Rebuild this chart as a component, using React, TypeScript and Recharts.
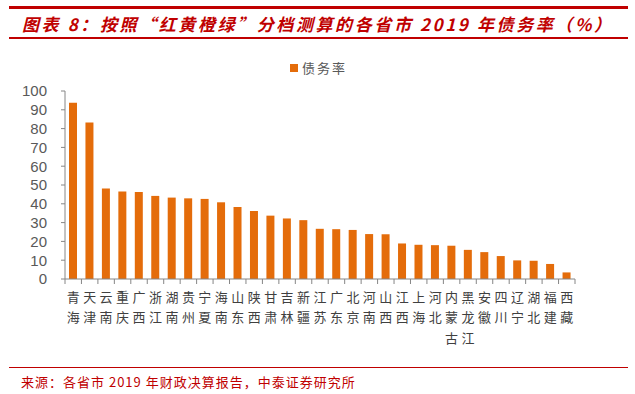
import React from 'react';
import { BarChart, Bar, XAxis, YAxis, Legend } from 'recharts';

const provinces = ['青海', '天津', '云南', '重庆', '广西', '浙江', '湖南', '贵州', '宁夏', '海南', '山东', '陕西', '甘肃', '吉林', '新疆', '江苏', '广东', '北京', '河南', '山西', '江西', '上海', '河北', '内蒙古', '黑龙江', '安徽', '四川', '辽宁', '湖北', '福建', '西藏'];
const debtRatio = [93.8, 83.2, 48.2, 46.6, 46.3, 44.2, 43.3, 42.9, 42.6, 40.8, 38.3, 36.2, 33.7, 32.2, 31.3, 26.7, 26.5, 26.1, 23.9, 23.8, 18.9, 18.2, 18.0, 17.7, 15.5, 14.3, 12.2, 9.9, 9.7, 8.0, 3.5];
const yTicks = [0, 10, 20, 30, 40, 50, 60, 70, 80, 90, 100];
const seriesName = '债务率';
const titleText = '图表 8：按照“红黄橙绿”分档测算的各省市 2019 年债务率（%）';
const sourceText = '来源：各省市 2019 年财政决算报告，中泰证券研究所';

const data = provinces.map((p, i) => ({ name: p, value: debtRatio[i] }));

const CJK = '"Noto Sans CJK SC", "Noto Sans", sans-serif';
const RED = '#C00000';
const BAR = '#E46C0A';
const AXIS = '#868686';

const W = 635;
const H = 394;
const M = { top: 91, right: 60, bottom: 55, left: 15 };
const Y_W = 50;
const plotW = W - M.left - Y_W - M.right;
const half = plotW / provinces.length / 2;

const CatTick = (props: any) => {
  const { x, y, payload, index } = props;
  const chars = String(payload.value).split('');
  const last = index === provinces.length - 1;
  return (
    <g>
      <line x1={x - half} x2={x - half} y1={y - 5} y2={y} stroke={AXIS} strokeWidth={1} />
      {last && <line x1={x + half} x2={x + half} y1={y - 5} y2={y} stroke={AXIS} strokeWidth={1} />}
      {chars.map((c, i) => (
        <text key={i} x={x} y={y + 12 + i * 20.5} textAnchor="middle" dominantBaseline="central" fontFamily={CJK} fontSize={13} fill="#404040">
          {c}
        </text>
      ))}
    </g>
  );
};

const LegendContent = () => (
  <div style={{ display: 'flex', alignItems: 'center', fontFamily: CJK, fontSize: 13, color: '#595959', letterSpacing: 2, whiteSpace: 'nowrap' }}>
    <span style={{ display: 'inline-block', width: 8, height: 8, background: BAR, marginRight: 4 }} />
    <span>{seriesName}</span>
  </div>
);

export default function App() {
  return (
    <div style={{ position: 'absolute', left: 0, top: 0, width: W, height: H, background: '#fff', overflow: 'hidden' }}>
      <div style={{ position: 'absolute', left: 9, top: 6, width: 619, height: 3, background: RED }} />
      <div style={{ position: 'absolute', left: 22, top: 15, height: 18, lineHeight: '18px', fontFamily: CJK, fontSize: 17, fontWeight: 'bold', fontStyle: 'italic', color: RED, letterSpacing: 2.6, whiteSpace: 'nowrap' }}>
        {titleText}
      </div>
      <div style={{ position: 'absolute', left: 9, top: 37, width: 619, height: 2, background: RED }} />
      <div style={{ position: 'absolute', left: 0, top: 0 }}>
        <BarChart width={W} height={H} data={data} margin={M}>
          <XAxis dataKey="name" interval={0} axisLine={{ stroke: AXIS }} tickLine={false} tickSize={5} tickMargin={0} height={60} tick={<CatTick />} />
          <YAxis domain={[0, 100]} ticks={yTicks} interval={0} width={Y_W} axisLine={{ stroke: AXIS }} tickLine={{ stroke: AXIS }} tickSize={4} tickMargin={14} tick={{ fontFamily: '"Liberation Sans", Arial, sans-serif', fontSize: 15, fill: '#595959' }} />
          <Legend layout="horizontal" verticalAlign="middle" align="center" content={<LegendContent />} wrapperStyle={{ top: 58, left: 290, width: 80 }} />
          <Bar dataKey="value" name={seriesName} fill={BAR} barSize={8} isAnimationActive={false} />
        </BarChart>
      </div>
      <div style={{ position: 'absolute', left: 9, top: 367, width: 619, height: 1, background: RED }} />
      <div style={{ position: 'absolute', left: 21, top: 375, height: 14, lineHeight: '14px', fontFamily: CJK, fontSize: 13, color: RED, letterSpacing: 1, whiteSpace: 'nowrap' }}>
        {sourceText}
      </div>
    </div>
  );
}
